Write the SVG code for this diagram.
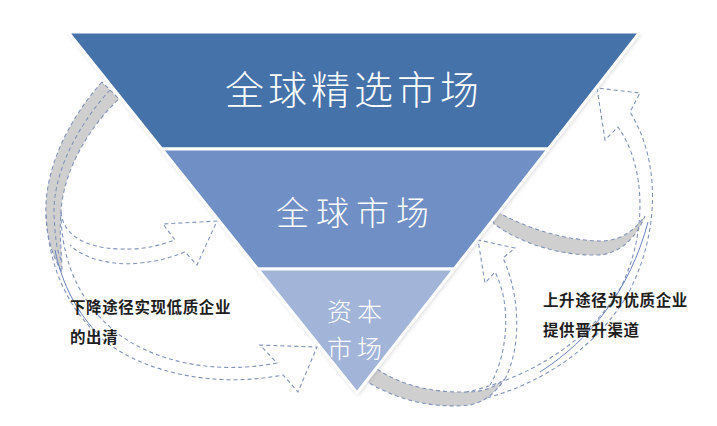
<svg xmlns="http://www.w3.org/2000/svg" width="717" height="426" viewBox="0 0 717 426">
<defs>
<filter id="sh" x="-10%" y="-10%" width="120%" height="120%"><feGaussianBlur stdDeviation="2"/></filter>
<style>
.band{stroke:#ffffff;stroke-width:3;stroke-linejoin:round}
.wt{fill:#ffffff;font-family:"Noto Sans CJK SC","Noto Sans CJK JP",sans-serif;font-weight:300;text-anchor:middle}
.lbl{fill:#1e1e1e;font-family:"Noto Sans CJK SC","Noto Sans CJK JP",sans-serif;font-weight:bold;font-size:15.5px;letter-spacing:0.6px}
.d{fill:none;stroke:#8393b8;stroke-width:1.1;stroke-dasharray:4 3}
.g{fill:#cfcfcf;stroke:#8393b8;stroke-width:1.1;stroke-dasharray:4 3}
.sl{fill:none;stroke:#6a84bb;stroke-width:1}
</style>
</defs>
<rect width="717" height="426" fill="#ffffff"/>
<g id="connectors">
  <!-- left back band -->
  <path class="g" d="M102,82 C68,120 44,170 46,215 C47,240 53,257 62,272 C62,255 59,235 61,212 C63,172 88,128 119,99 Z"/>
  <path class="d" d="M110,90 C78,125 53,172 54,214 C55,238 57,252 62,262"/>
  <!-- left big arrow -->
  <path class="d" d="M46,215 C49,270 70,315 110,345 C150,373 215,388 283,375 L298,392 L317,347 L260,345 L277,363 C215,375 155,362 117,333 C82,305 62,265 61,215"/>
  <path class="sl" d="M55,250 C62,285 78,314 100,336"/>
  <!-- left small arrow -->
  <path class="d" d="M61,212 C63,235 85,248 120,249 C145,250 160,245 175,240 L163,224 L217,221 L197,265 L185,252 C172,257 160,261 140,263 C115,266 85,260 70,245"/>
  <!-- right upper band -->
  <path class="g" d="M491,208 C520,226 560,240 600,241 C620,241 633,232 645,216 C636,238 620,254 598,255 C560,256 520,243 494,224 Z"/>
  <!-- right long arrow to top -->
  <path class="d" d="M460,404 C540,390 600,345 630,290 C660,230 660,160 630,112 L640,93 L597,88 L605,140 L618,127 C645,165 648,230 622,285 C595,335 535,378 462,393"/>
  <path class="sl" d="M540,372 C590,340 630,290 648,222"/>
  <!-- right lower band -->
  <path class="g" d="M366,361 C395,385 430,393 470,392 C485,391 495,387 505,379 C495,393 485,402 470,405 C430,409 395,399 366,381 Z"/>
  <!-- right lower arrow -->
  <path class="d" d="M505,379 C520,350 522,300 503,258 L515,248 L478,240 L485,283 L495,272 C514,310 505,360 490,385"/>
</g>
<polygon points="68,32 640,32 357,393" fill="#9a9a9a" opacity="0.45" filter="url(#sh)" transform="translate(1,2)"/>
<g id="global-select">
  <polygon class="band" points="68,32 640,32 548.3,149 161.7,149" fill="#4672aa"/>
  <text class="wt" x="354" y="104" font-size="39" letter-spacing="4">全球精选市场</text>
</g>
<g id="global">
  <polygon class="band" points="161.7,149 548.3,149 454.2,269 257.7,269" fill="#6f8fc5"/>
  <text class="wt" x="356" y="225" font-size="33" letter-spacing="7">全球市场</text>
</g>
<g id="capital">
  <polygon class="band" points="257.7,269 454.2,269 357,393" fill="#a2b5d9"/>
  <text class="wt" x="357" y="321" font-size="25" letter-spacing="5">资本</text>
  <text class="wt" x="357" y="358" font-size="25" letter-spacing="5">市场</text>
</g>
<g id="label-down">
  <text class="lbl" x="70" y="313">下降途径实现低质企业</text>
  <text class="lbl" x="70" y="343">的出清</text>
</g>
<g id="label-up">
  <text class="lbl" x="543" y="306">上升途径为优质企业</text>
  <text class="lbl" x="543" y="336">提供晋升渠道</text>
</g>
</svg>
